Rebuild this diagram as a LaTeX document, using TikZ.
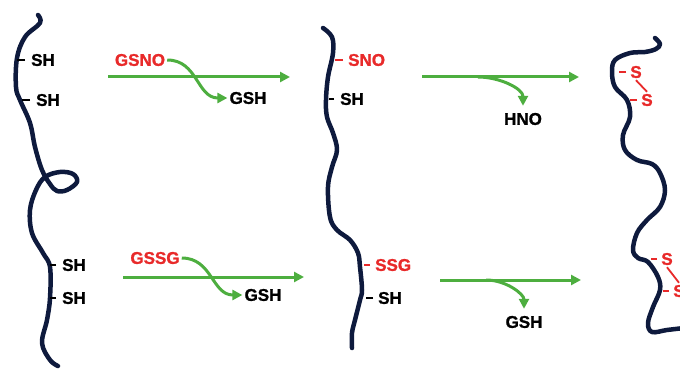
\documentclass[tikz,border=0pt]{standalone}
\usepackage{fontspec}
\setmainfont{Liberation Sans}[BoldFeatures={FakeBold=1.2}]
\usetikzlibrary{arrows.meta}
\definecolor{chainblue}{HTML}{0E1A3D}
\definecolor{rxngreen}{HTML}{4DAE3F}
\definecolor{thiolred}{HTML}{E82A2A}

\tikzset{
  chain/.style={draw=chainblue, line width=4.5pt, line cap=round, line join=round},
  rxn/.style={draw=rxngreen, line width=3pt, -{Triangle[length=10pt,width=10pt]}},
  lbl/.style={font=\bfseries\fontsize{17}{19}\selectfont, inner sep=2pt},
  redlbl/.style={lbl, text=thiolred},
  tick/.style={draw=black, line width=1.8pt},
  redtick/.style={draw=thiolred, line width=1.8pt}
}

\begin{document}
\begin{tikzpicture}[x=1pt, y=-1pt]
  \useasboundingbox (0,0) rectangle (680,369);

  % protein chains
  \draw [chain] plot [smooth, tension=0.6] coordinates {(38,15) (40,23) (25,37) (17,58) (16,87)
    (20,100) (30,123) (35,147) (42,170) (50,184) (57,191) (67,190) (77,182) (73,174) (60,172)
    (45,177) (36,190) (30,210) (32,233) (43,253) (50,267) (50,298) (47,320) (42,343) (50,360) (58,366)};
  \draw [chain] plot [smooth, tension=0.6] coordinates {(323,28) (332,37) (333,53) (328,77)
    (326,100) (327,117) (333,133) (337,150) (332,167) (328,187) (330,217) (337,230) (350,240)
    (358,253) (360,267) (362,290) (360,300) (355,320) (352,333) (352,348)};
  \draw [chain] plot [smooth, tension=0.6] coordinates {(655,38) (660,44) (656,49) (645,52)
    (630,53) (615,60) (612,72) (615,87) (627,100) (630,117) (623,135) (625,150) (637,160)
    (652,164) (660,173) (665,190) (660,207) (647,220) (637,233) (633,250) (638,258) (648,262)
    (658,277) (660,290) (653,307) (648,323) (652,332) (667,330) (684,328)};

  % reduced chain
  \node [lbl, anchor=west, name=sh1] at (29,60) {SH};
  \node [lbl, anchor=west, name=sh2] at (34,100) {SH};
  \node [lbl, anchor=west, name=sh3] at (60,265) {SH};
  \node [lbl, anchor=west, name=sh4] at (60,298) {SH};
  \draw [tick] ([xshift=-4pt]sh1.west) -- ++(-8,0);
  \draw [tick] ([xshift=-4pt]sh2.west) -- ++(-8,0);
  \draw [tick] ([xshift=-4pt]sh3.west) -- ++(-6,0);
  \draw [tick] ([xshift=-4pt]sh4.west) -- ++(-6,0);

  % modified chain
  \node [redlbl, anchor=west, name=sno] at (346,60) {SNO};
  \node [lbl, anchor=west, name=sh5] at (338,99) {SH};
  \node [redlbl, anchor=west, name=ssg] at (373,265) {SSG};
  \node [lbl, anchor=west, name=sh6] at (376,298) {SH};
  \draw [redtick] ([xshift=-3pt]sno.west) -- ++(-8,0);
  \draw [tick] ([xshift=-4pt]sh5.west) -- ++(-5,0);
  \draw [redtick] ([xshift=-3pt]ssg.west) -- ++(-6,0);
  \draw [tick] ([xshift=-3pt]sh6.west) -- ++(-7,0);

  % disulfide chain
  \node [redlbl, name=s1] at (636,72) {S};
  \node [redlbl, name=s2] at (647,100) {S};
  \node [redlbl, name=s3] at (667,259) {S};
  \node [redlbl, name=s4] at (679,291) {S};
  \draw [redtick] ([xshift=-2pt]s1.west) -- ++(-7,0);
  \draw [redtick] ([xshift=-2pt]s2.west) -- ++(-7,0);
  \draw [redtick] ([xshift=-2pt]s3.west) -- ++(-6,0);
  \draw [redtick] ([xshift=-2pt]s4.west) -- ++(-6,0);
  \draw [redtick] (s1.south) -- (s2.north);
  \draw [redtick] (s3.south) -- (s4.north);

  % S-nitrosylation
  \coordinate (r1a) at (108,77);
  \coordinate (r1b) at (290,77);
  \node [redlbl, name=gsno] at (140,60) {GSNO};
  \node [lbl, name=gsh1] at (248,98) {GSH};
  \draw [rxn] (r1a) -- (r1b);
  \draw [rxn] (gsno.east) to[out=0, in=180, looseness=1.1] (gsh1.west);

  % glutathionylation
  \coordinate (r2a) at (123,277);
  \coordinate (r2b) at (304,277);
  \node [redlbl, name=gssg] at (155,258) {GSSG};
  \node [lbl, name=gsh2] at (263,295) {GSH};
  \draw [rxn] (r2a) -- (r2b);
  \draw [rxn] (gssg.east) to[out=0, in=180, looseness=1.1] (gsh2.west);

  % release of HNO / GSH
  \coordinate (r3a) at (422,77);
  \coordinate (r3b) at (579,77);
  \coordinate (r3c) at (478,77);
  \node [lbl, name=hno] at (523,119) {HNO};
  \draw [rxn] (r3a) -- (r3b);
  \draw [rxn, shorten >=5pt] (r3c) to[out=0, in=90] (hno.north);

  \coordinate (r4a) at (440,280);
  \coordinate (r4b) at (581,280);
  \coordinate (r4c) at (486,280);
  \node [lbl, name=gsh3] at (524,322) {GSH};
  \draw [rxn] (r4a) -- (r4b);
  \draw [rxn, shorten >=5pt] (r4c) to[out=0, in=90] (gsh3.north);
\end{tikzpicture}
\end{document}
